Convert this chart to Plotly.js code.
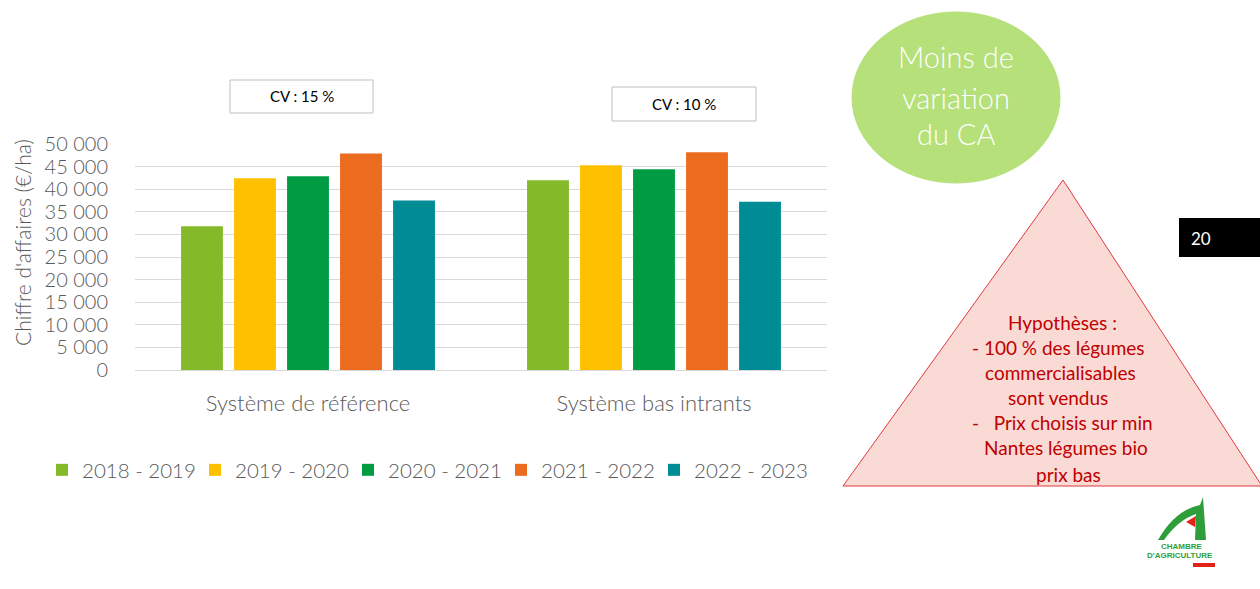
<!DOCTYPE html>
<html>
<head>
<meta charset="utf-8">
<script src="https://cdn.plot.ly/plotly-3.0.1.min.js"></script>
<style>html,body{margin:0;padding:0;background:#fff;}#chart{width:1260px;height:589px;}</style>
</head>
<body>
<div id="chart"></div>
<script>
const categories = ["Système de référence", "Système bas intrants"];
const seriesNames = ["2018 - 2019", "2019 - 2020", "2020 - 2021", "2021 - 2022", "2022 - 2023"];
const s2018 = [31800, 42000];
const s2019 = [42400, 45300];
const s2020 = [42850, 44400];
const s2021 = [47900, 48200];
const s2022 = [37500, 37200];
const seriesValues = [s2018, s2019, s2020, s2021, s2022];
const colors = ["#84BA2A", "#FFC000", "#009C44", "#EC6C1F", "#008C95"];
const cvLabels = ["CV : 15 %", "CV : 10 %"];
const yTicks = [0, 5000, 10000, 15000, 20000, 25000, 30000, 35000, 40000, 45000, 50000];
const hypText = ["Hypothèses :", "- 100 % des légumes", "commercialisables", "sont vendus", "-   Prix choisis sur min", "Nantes légumes bio", "prix bas"];
const bubbleLines = ["Moins de", "variation", "du CA"];

const W = 1260, H = 589;
const L = 135, R = 827, T = 144, B = 370;
const xp = px => (px - L) / (R - L);
const yp = py => (B - py) / (B - T);
const FONT = "Lato, 'Open Sans', sans-serif";
const GREY = "#595959";

const traces = seriesNames.map((n, i) => ({
  type: "bar", name: n, x: categories, y: seriesValues[i],
  marker: {color: colors[i], line: {width: 0}},
  hoverinfo: "skip"
}));

const shapes = [];
const annotations = [];

// CV boxes
const cvBoxes = [[230, 373, 80, 113], [612, 756, 87, 121]];
cvBoxes.forEach((b, i) => {
  shapes.push({type: "rect", xref: "paper", yref: "paper", x0: xp(b[0]), x1: xp(b[1]), y0: yp(b[3]), y1: yp(b[2]),
    line: {color: "#BFBFBF", width: 1}, fillcolor: "#fff"});
  annotations.push({xref: "paper", yref: "paper", x: xp((b[0] + b[1]) / 2), y: yp((b[2] + b[3]) / 2),
    text: cvLabels[i], showarrow: false, font: {family: FONT, size: 15, color: "#000", weight: 400}, xanchor: "center", yanchor: "middle"});
});

// bubble
shapes.push({type: "circle", xref: "paper", yref: "paper", x0: xp(852), x1: xp(1060), y0: yp(183), y1: yp(12),
  fillcolor: "#B5E07A", line: {color: "#B5E07A", width: 1}});
const bubbleY = [57, 97, 134];
bubbleLines.forEach((t, i) => {
  annotations.push({xref: "paper", yref: "paper", x: xp(956), y: yp(bubbleY[i]), text: t, showarrow: false,
    font: {family: FONT, size: 29, color: "#fff", weight: 300}, xanchor: "center", yanchor: "middle"});
});

// triangle
shapes.push({type: "path", xref: "paper", yref: "paper",
  path: `M ${xp(1063)} ${yp(180)} L ${xp(1262)} ${yp(486)} L ${xp(843)} ${yp(486)} Z`,
  fillcolor: "#F9DAD5", line: {color: "#E0393E", width: 1}});
const hypY = [322, 347, 372, 397, 422, 448, 474];
const hypX = [1062, 1058, 1060, 1058, 1062, 1066, 1068];
hypText.forEach((t, i) => {
  annotations.push({xref: "paper", yref: "paper", x: xp(hypX[i]), y: yp(hypY[i]), text: t, showarrow: false,
    font: {family: FONT, size: 19, color: "#C00000"}, xanchor: "center", yanchor: "middle"});
});

// page number box
shapes.push({type: "rect", xref: "paper", yref: "paper", x0: xp(1179), x1: xp(1262), y0: yp(257), y1: yp(218),
  fillcolor: "#000", line: {width: 0}});
annotations.push({xref: "paper", yref: "paper", x: xp(1189), y: yp(238), text: "20", showarrow: false,
  font: {family: FONT, size: 17, color: "#fff"}, xanchor: "left", yanchor: "middle"});

// logo (approximation)
shapes.push({type: "path", xref: "paper", yref: "paper",
  path: `M ${xp(1158)} ${yp(540)} Q ${xp(1175)} ${yp(510)} ${xp(1200)} ${yp(505)} L ${xp(1203)} ${yp(497)} L ${xp(1206)} ${yp(540)} L ${xp(1195)} ${yp(540)} L ${xp(1196)} ${yp(514)} Q ${xp(1178)} ${yp(520)} ${xp(1164)} ${yp(540)} Z`,
  fillcolor: "#2E9E3A", line: {width: 0}});
shapes.push({type: "path", xref: "paper", yref: "paper",
  path: `M ${xp(1186)} ${yp(522)} L ${xp(1196)} ${yp(516)} L ${xp(1195)} ${yp(527)} Z`,
  fillcolor: "#E2231A", line: {width: 0}});
annotations.push({xref: "paper", yref: "paper", x: xp(1182), y: yp(546), text: "<b>CHAMBRE</b>", showarrow: false,
  font: {family: "Liberation Sans Narrow, Liberation Sans, sans-serif", size: 8, color: "#2E9E3A"}, xanchor: "center", yanchor: "middle"});
annotations.push({xref: "paper", yref: "paper", x: xp(1180), y: yp(555), text: "<b>D'AGRICULTURE</b>", showarrow: false,
  font: {family: "Liberation Sans Narrow, Liberation Sans, sans-serif", size: 8, color: "#2E9E3A"}, xanchor: "center", yanchor: "middle"});
shapes.push({type: "rect", xref: "paper", yref: "paper", x0: xp(1193), x1: xp(1215), y0: yp(567), y1: yp(563),
  fillcolor: "#E2231A", line: {width: 0}});

// y-axis title
annotations.push({xref: "paper", yref: "paper", x: xp(22), y: yp(243), text: "Chiffre d'affaires (€/ha)", showarrow: false,
  textangle: -90, font: {family: FONT, size: 21, color: GREY, weight: 300}, xanchor: "center", yanchor: "middle"});

const layout = {
  width: W, height: H,
  margin: {l: L, r: W - R, t: T, b: H - B, pad: 0},
  paper_bgcolor: "#fff", plot_bgcolor: "#fff",
  separators: ", ",
  font: {family: FONT, color: GREY},
  barmode: "group", bargap: 0.234, bargroupgap: 0.21,
  showlegend: true,
  legend: {orientation: "h", x: xp(42), xanchor: "left", y: yp(470), yanchor: "middle",
    font: {family: FONT, size: 20.5, color: GREY, weight: 300}, entrywidth: 108, entrywidthmode: "pixels",
    bgcolor: "rgba(0,0,0,0)", itemclick: false, traceorder: "normal"},
  xaxis: {type: "category", showgrid: false, showline: false, zeroline: false,
    ticks: "outside", ticklen: 14, tickcolor: "rgba(0,0,0,0)",
    tickfont: {family: FONT, size: 22, color: GREY, weight: 300}, fixedrange: true},
  yaxis: {range: [0, 50000], tickvals: yTicks, tickformat: ",d", showgrid: true, gridcolor: "#D9D9D9", gridwidth: 1,
    zeroline: true, zerolinecolor: "#D9D9D9", zerolinewidth: 1, showline: false,
    ticks: "outside", ticklen: 22, tickcolor: "rgba(0,0,0,0)",
    tickfont: {family: FONT, size: 20, color: GREY, weight: 300}, fixedrange: true},
  shapes: shapes,
  annotations: annotations
};

Plotly.newPlot("chart", traces, layout, {displayModeBar: false, staticPlot: true});
</script>
</body>
</html>
